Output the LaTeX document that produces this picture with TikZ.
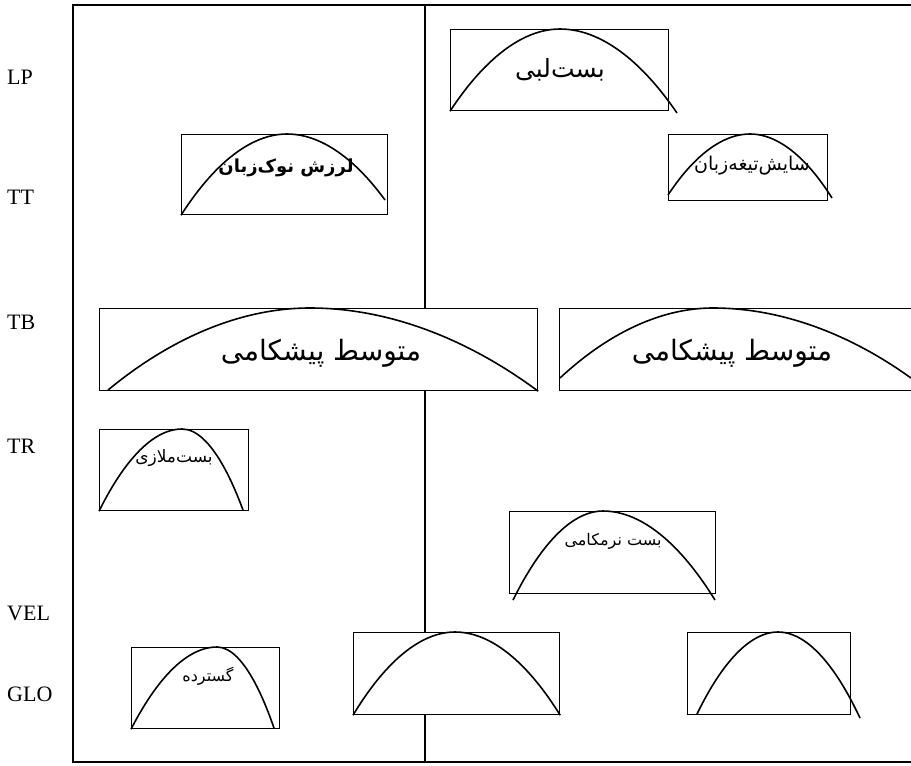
\documentclass[tikz,border=0pt]{standalone}
\usepackage{fontspec}
\newfontfamily\arabicfont[Script=Arabic]{DejaVu Sans}
\newfontfamily\tierfont{Liberation Serif}
\TeXXeTstate=1
\usetikzlibrary{positioning}

\begin{document}
\begin{tikzpicture}[
  x=1pt, y=-1pt,
  box/.style={draw, fill=white, line width=1.2pt, inner sep=0pt, anchor=north west},
  curve/.style={line width=1.6pt},
  tier/.style={font=\tierfont\fontsize{22}{24}\selectfont, anchor=west, inner sep=0pt},
  fa/.style={inner sep=0pt}
]
\useasboundingbox (0,0) rectangle (911,766);

% frame and divider
\coordinate (ftop) at (425,5);
\coordinate (fbot) at (425,762);
\draw[line width=1.2pt] (911,5) -| (73,762) -- (911,762);
\draw[line width=1.2pt] (ftop) -- (fbot);

% tier labels
\node[tier] (lp)  at (7,77)  {LP};
\node[tier] (tt)  at (7,197) {TT};
\node[tier] (tb)  at (7,322) {TB};
\node[tier] (tr)  at (7,446) {TR};
\node[tier] (vel) at (7,613) {VEL};
\node[tier] (glo) at (7,694) {GLO};

% gesture boxes
\node[box, minimum width=218pt, minimum height=81pt] (lpbox)  at (450,29)  {};
\node[box, minimum width=206pt, minimum height=80pt] (ttone)  at (181,134) {};
\node[box, minimum width=159pt, minimum height=66pt] (tttwo)  at (668,134) {};
\node[box, minimum width=438pt, minimum height=82pt] (tbone)  at (99,308)  {};
\node[box, minimum width=360pt, minimum height=82pt] (tbtwo)  at (559,308) {};
\node[box, minimum width=149pt, minimum height=81pt] (trbox)  at (99,429)  {};
\node[box, minimum width=206pt, minimum height=82pt] (velbox) at (509,511) {};
\node[box, minimum width=148pt, minimum height=81pt] (gloone) at (131,647) {};
\node[box, minimum width=206pt, minimum height=82pt] (glotwo) at (353,632) {};
\node[box, minimum width=163pt, minimum height=82pt] (glothr) at (687,632) {};

% activation curves
\draw[curve] (lpbox.south west) parabola bend (560,29) (677,113);
\draw[curve] (ttone.south west) parabola bend (287,134) (385,200);
\draw[curve] (668,195) parabola bend (750,134) (832,198);
\draw[curve] (108,390) parabola bend (310,308) (tbone.south east);
\draw[curve] (560,378) parabola bend (713,308) (911,378);
\draw[curve] (trbox.south west) parabola bend (182,429) (243,510);
\draw[curve] (513,600) parabola bend (603,511) (715,600);
\draw[curve] (gloone.south west) parabola bend (217,647) (274,728);
\draw[curve] (glotwo.south west) parabola bend (455,632) (glotwo.south east);
\draw[curve] (697,714) parabola bend (778,632) (860,718);

% gesture labels
\node[fa] (lptext)  at (560,70)  {\arabicfont\fontsize{25}{27}\selectfont\beginR بست^^^^200cلبی\endR};
\node[fa] (ttonetext) at (286,168) {\arabicfont\bfseries\fontsize{18}{20}\selectfont\beginR لرزش نوک^^^^200cزبان\endR};
\node[fa] (tttwotext) at (752,166) {\arabicfont\fontsize{19}{21}\selectfont\beginR سایش^^^^200cتیغه^^^^200cزبان\endR};
\node[fa] (tbonetext) at (321,353) {\arabicfont\fontsize{28}{30}\selectfont\beginR متوسط پیشکامی\endR};
\node[fa] (tbtwotext) at (732,353) {\arabicfont\fontsize{28}{30}\selectfont\beginR متوسط پیشکامی\endR};
\node[fa] (trtext)  at (174,458) {\arabicfont\fontsize{17}{19}\selectfont\beginR بست^^^^200cملازی\endR};
\node[fa] (veltext) at (613,541) {\arabicfont\fontsize{16}{18}\selectfont\beginR بست نرمکامی\endR};
\node[fa] (glotext) at (208,676) {\arabicfont\fontsize{16}{18}\selectfont\beginR گسترده\endR};
\end{tikzpicture}
\end{document}
